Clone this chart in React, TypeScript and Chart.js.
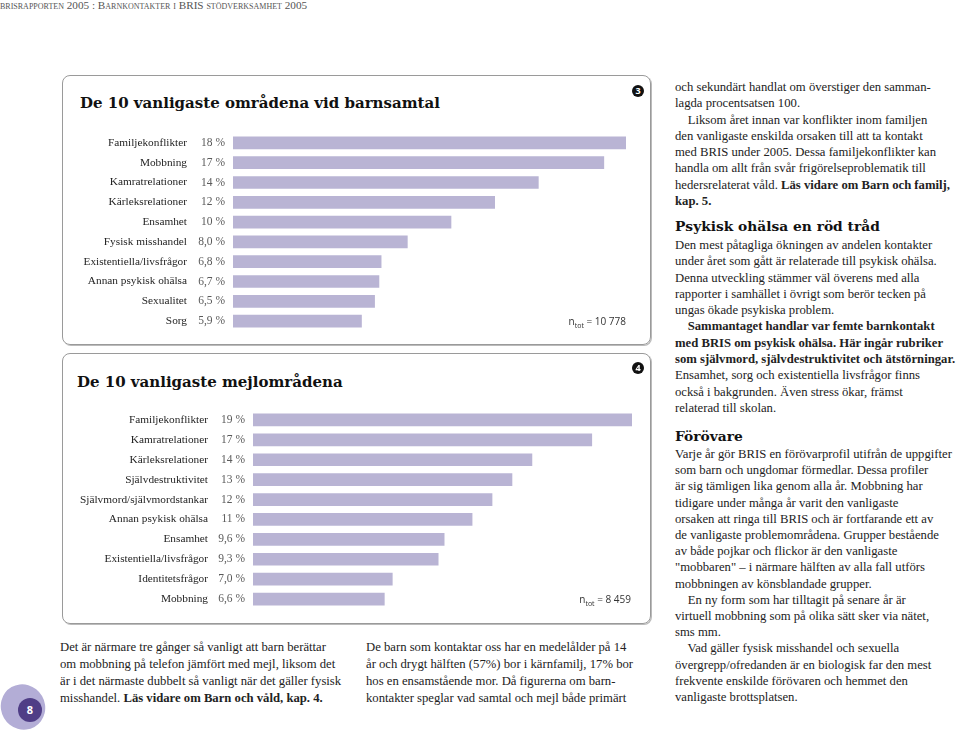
import React, { useEffect, useRef } from "react";
import { Chart, registerables } from "chart.js";
Chart.register(...registerables);

const callCategories = ["Familjekonflikter", "Mobbning", "Kamratrelationer", "Kärleksrelationer", "Ensamhet", "Fysisk misshandel", "Existentiella/livsfrågor", "Annan psykisk ohälsa", "Sexualitet", "Sorg"];
const callValues = [18, 17, 14, 12, 10, 8.0, 6.8, 6.7, 6.5, 5.9];
const callTotal = "10 778";

const mailCategories = ["Familjekonflikter", "Kamratrelationer", "Kärleksrelationer", "Självdestruktivitet", "Självmord/självmordstankar", "Annan psykisk ohälsa", "Ensamhet", "Existentiella/livsfrågor", "Identitetsfrågor", "Mobbning"];
const mailValues = [19, 17, 14, 13, 12, 11, 9.6, 9.3, 7.0, 6.6];
const mailTotal = "8 459";

const BAR_COLOR = "#b9b4d4";
const SERIF = "'Liberation Serif', 'DejaVu Serif', serif";
const SLAB = "'DejaVu Serif', serif";
const SANS = "'Open Sans', 'Liberation Sans', sans-serif";

function fmt(v: number): string {
  return v >= 10 ? `${v} %` : `${v.toFixed(1).replace(".", ",")} %`;
}

const valuePlugin = {
  id: "valueLabels",
  afterDatasetsDraw(chart: any, _args: any, opts: any) {
    const ctx = chart.ctx;
    const meta = chart.getDatasetMeta(0);
    ctx.save();
    ctx.font = opts.font;
    ctx.fillStyle = opts.color;
    ctx.textAlign = "right";
    ctx.textBaseline = "middle";
    meta.data.forEach((el: any, i: number) => {
      ctx.fillText(fmt(chart.data.datasets[0].data[i]), chart.chartArea.left - opts.gap, el.y);
    });
    ctx.restore();
  },
};

type BarProps = {
  labels: string[];
  values: number[];
  left: number;
  top: number;
  width: number;
  height: number;
  axisWidth: number;
  labelPad: number;
  valueGap: number;
  padTop: number;
  padBottom: number;
  padRight: number;
};

function BarChart(p: BarProps) {
  const ref = useRef<HTMLCanvasElement>(null);
  useEffect(() => {
    if (!ref.current) return;
    const chart = new Chart(ref.current, {
      type: "bar",
      data: {
        labels: p.labels,
        datasets: [
          {
            data: p.values,
            backgroundColor: BAR_COLOR,
            borderWidth: 0,
            barPercentage: 0.64,
            categoryPercentage: 1,
          },
        ],
      },
      options: {
        indexAxis: "y",
        animation: false,
        responsive: false,
        maintainAspectRatio: false,
        layout: { padding: { top: p.padTop, bottom: p.padBottom, right: p.padRight, left: 0 } },
        plugins: {
          legend: { display: false },
          tooltip: { enabled: false },
          valueLabels: { font: `11.5px ${SERIF}`, color: "#5a5a5a", gap: p.valueGap },
        } as any,
        scales: {
          x: { display: false, min: 0, max: Math.max(...p.values) },
          y: {
            grid: { display: false, drawTicks: false },
            border: { display: false },
            ticks: { padding: p.labelPad, color: "#1e1e1e", font: { family: SERIF, size: 11.3 } },
            afterFit: (s: any) => {
              s.width = p.axisWidth;
              s.paddingTop = 0;
              s.paddingBottom = 0;
            },
          },
        },
      },
      plugins: [valuePlugin],
    });
    return () => chart.destroy();
  }, []);
  return (
    <canvas
      ref={ref}
      width={p.width}
      height={p.height}
      style={{ position: "absolute", left: p.left, top: p.top, width: p.width, height: p.height }}
    />
  );
}

const abs = (l: number, t: number, extra: React.CSSProperties = {}): React.CSSProperties => ({
  position: "absolute",
  left: l,
  top: t,
  ...extra,
});

function Badge({ x, y, n }: { x: number; y: number; n: string }) {
  return (
    <div
      style={abs(x - 6, y - 6, {
        width: 12,
        height: 12,
        borderRadius: 6,
        background: "#111",
        color: "#fff",
        fontFamily: SANS,
        fontWeight: 700,
        fontSize: 9,
        lineHeight: "12px",
        textAlign: "center",
      })}
    >
      {n}
    </div>
  );
}

function NTot({ right, y, total }: { right: number; y: number; total: string }) {
  return (
    <div style={abs(right - 120, y - 8, { width: 120, textAlign: "right", fontFamily: SANS, fontSize: 10, color: "#333", lineHeight: "16px", whiteSpace: "nowrap" })}>
      n<sub style={{ fontSize: 7 }}>tot</sub> = {total}
    </div>
  );
}

const bodyText: React.CSSProperties = {
  fontFamily: SERIF,
  fontSize: 12.7,
  color: "#222",
  whiteSpace: "pre",
};

const heading: React.CSSProperties = {
  fontFamily: SLAB,
  fontWeight: 700,
  color: "#111",
  whiteSpace: "nowrap",
  lineHeight: "20px",
};

export default function App() {
  return (
    <div style={{ position: "absolute", left: 0, top: 0, width: 960, height: 736, background: "#fff", overflow: "hidden" }}>
      <div style={abs(0, -1, { fontFamily: SERIF, fontSize: 11.2, color: "#555", fontVariant: "small-caps", whiteSpace: "nowrap", lineHeight: "12px" })}>
        brisrapporten 2005 : Barnkontakter i BRIS stödverksamhet 2005
      </div>

      {/* Box 1 */}
      <div style={abs(62, 75, { width: 587, height: 268, border: "1px solid #9a9a9a", borderRadius: 8, boxShadow: "1px 1px 0 #bbb" })} />
      <div style={abs(80, 93, { ...heading, fontSize: 15 })}>De 10 vanligaste områdena vid barnsamtal</div>
      <Badge x={638} y={91} n="3" />
      <BarChart labels={callCategories} values={callValues} left={70} top={123} width={575} height={218} axisWidth={163} labelPad={46} valueGap={8} padTop={10} padBottom={10} padRight={19} />
      <NTot right={626} y={321} total={callTotal} />

      {/* Box 2 */}
      <div style={abs(62, 353, { width: 587, height: 269, border: "1px solid #9a9a9a", borderRadius: 8, boxShadow: "1px 1px 0 #bbb" })} />
      <div style={abs(77, 372, { ...heading, fontSize: 15 })}>De 10 vanligaste mejlområdena</div>
      <Badge x={638} y={368} n="4" />
      <BarChart labels={mailCategories} values={mailValues} left={66} top={400} width={580} height={220} axisWidth={187} labelPad={45} valueGap={8} padTop={10} padBottom={11} padRight={14} />
      <NTot right={631} y={599} total={mailTotal} />

      {/* Bottom text left */}
      <div style={abs(60, 639, { ...bodyText, lineHeight: "17px" })}>
        {"Det är närmare tre gånger så vanligt att barn berättar\nom mobbning på telefon jämfört med mejl, liksom det\när i det närmaste dubbelt så vanligt när det gäller fysisk\nmisshandel. "}
        <b>Läs vidare om Barn och våld, kap. 4.</b>
      </div>
      <div style={abs(366, 639, { ...bodyText, lineHeight: "17px" })}>
        {"De barn som kontaktar oss har en medelålder på 14\når och drygt hälften (57%) bor i kärnfamilj, 17% bor\nhos en ensamstående mor. Då figurerna om barn-\nkontakter speglar vad samtal och mejl både primärt"}
      </div>

      {/* Right column */}
      <div style={abs(675, 79, { ...bodyText, lineHeight: "16.3px" })}>
        {"och sekundärt handlat om överstiger den samman-\nlagda procentsatsen 100.\n    Liksom året innan var konflikter inom familjen\nden vanligaste enskilda orsaken till att ta kontakt\nmed BRIS under 2005. Dessa familjekonflikter kan\nhandla om allt från svår frigörelseproblematik till\nhedersrelaterat våld. "}
        <b>{"Läs vidare om Barn och familj,\nkap. 5."}</b>
      </div>
      <div style={abs(675, 216, { ...heading, fontSize: 13.8 })}>Psykisk ohälsa en röd tråd</div>
      <div style={abs(675, 237, { ...bodyText, lineHeight: "16.3px" })}>
        {"Den mest påtagliga ökningen av andelen kontakter\nunder året som gått är relaterade till psykisk ohälsa.\nDenna utveckling stämmer väl överens med alla\nrapporter i samhället i övrigt som berör tecken på\nungas ökade psykiska problem.\n"}
        <b>{"    Sammantaget handlar var femte barnkontakt\nmed BRIS om psykisk ohälsa. Här ingår rubriker\nsom självmord, självdestruktivitet och ätstörningar."}</b>
        {"\nEnsamhet, sorg och existentiella livsfrågor finns\nockså i bakgrunden. Även stress ökar, främst\nrelaterad till skolan."}
      </div>
      <div style={abs(675, 426, { ...heading, fontSize: 13.8 })}>Förövare</div>
      <div style={abs(675, 446, { ...bodyText, lineHeight: "16.2px" })}>
        {"Varje år gör BRIS en förövarprofil utifrån de uppgifter\nsom barn och ungdomar förmedlar. Dessa profiler\när sig tämligen lika genom alla år. Mobbning har\ntidigare under många år varit den vanligaste\norsaken att ringa till BRIS och är fortfarande ett av\nde vanligaste problemområdena. Grupper bestående\nav både pojkar och flickor är den vanligaste\n\"mobbaren\" – i närmare hälften av alla fall utförs\nmobbningen av könsblandade grupper.\n    En ny form som har tilltagit på senare år är\nvirtuell mobbning som på olika sätt sker via nätet,\nsms mm.\n    Vad gäller fysisk misshandel och sexuella\növergrepp/ofredanden är en biologisk far den mest\nfrekvente enskilde förövaren och hemmet den\nvanligaste brottsplatsen."}
      </div>

      {/* Page number */}
      <div style={abs(1, 684, { width: 44, height: 46, borderRadius: "50%", background: "#b3add6", transform: "rotate(-30deg)" })} />
      <div style={abs(18, 698, { width: 24, height: 24, borderRadius: 12, background: "#4f3d86", color: "#fff", fontFamily: SANS, fontWeight: 700, fontSize: 11, lineHeight: "24px", textAlign: "center" })}>
        8
      </div>
    </div>
  );
}
